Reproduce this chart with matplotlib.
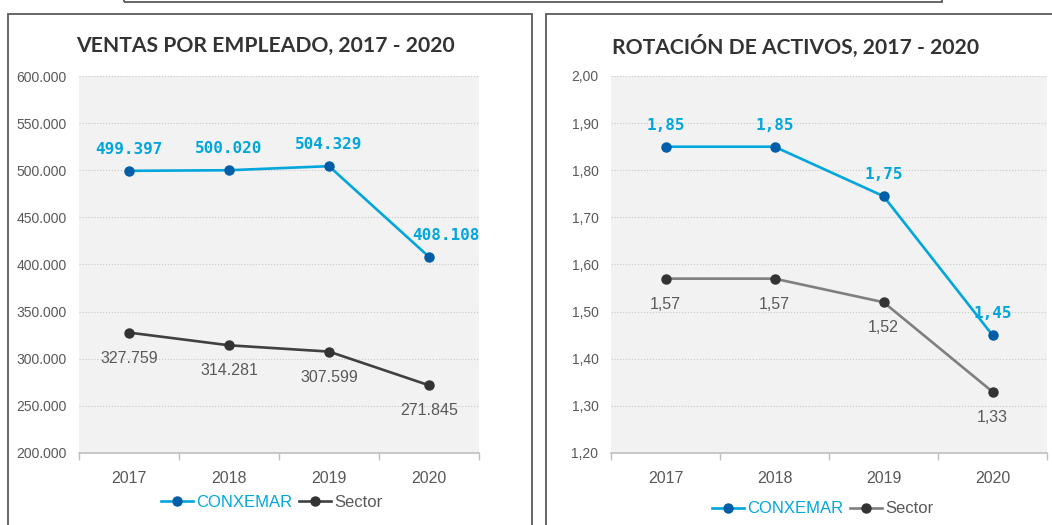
import matplotlib
matplotlib.use('Agg')
import matplotlib.pyplot as plt
from matplotlib.patches import Rectangle
from matplotlib.ticker import FuncFormatter

plt.rcParams['font.family'] = ['Liberation Sans', 'DejaVu Sans']

# datos
years = ['2017', '2018', '2019', '2020']
ventas_conxemar = [499397, 500020, 504329, 408108]
ventas_sector = [327759, 314281, 307599, 271845]
rot_conxemar = [1.85, 1.85, 1.745, 1.45]
rot_sector = [1.57, 1.57, 1.52, 1.33]
rot_conxemar_lbl = ['1,85', '1,85', '1,75', '1,45']
rot_sector_lbl = ['1,57', '1,57', '1,52', '1,33']

CYAN = '#00A6DC'
AZUL = '#005DA8'
GRIS_TXT = '#595959'


def miles(v):
    return f'{int(round(v)):,}'.replace(',', '.')


def dec(v, _=None):
    return f'{v:.2f}'.replace('.', ',')


fig = plt.figure(figsize=(10.52, 5.25), dpi=100)
W, H = 1052, 525

# marcos
for (x0, y0, x1, y1) in [(8, 14, 532, 560), (546, 14, 1100, 560), (124, -40, 942, 2)]:
    fig.patches.append(Rectangle((x0 / W, 1 - y1 / H), (x1 - x0) / W, (y1 - y0) / H,
                                 transform=fig.transFigure, fill=False,
                                 edgecolor='#5A5A5A', lw=1.3, clip_on=False))


def panel(rect, s1, s2, lbl1, lbl2, ylim, step, fmt, sector_col, title, title_x, leg_xy, off_last):
    ax = fig.add_axes(rect)
    ax.set_facecolor('#F2F2F2')
    x = range(len(years))
    ax.plot(x, s1, color=CYAN, lw=1.9, marker='o', ms=6.5, mfc=AZUL, mec=AZUL,
            label='CONXEMAR', zorder=3)
    ax.plot(x, s2, color=sector_col, lw=1.9, marker='o', ms=6.5, mfc='#333333', mec='#333333',
            label='Sector', zorder=3)
    for i in x:
        dx = off_last if i == len(years) - 1 else 0
        ax.annotate(lbl1[i], (i, s1[i]), xytext=(dx, 15.5), textcoords='offset points',
                    ha='center', va='center', color=CYAN, fontsize=11.5, fontweight='bold',
                    family=['DejaVu Sans Mono'])
        ax.annotate(lbl2[i], (i, s2[i]), xytext=(0, -18.5), textcoords='offset points',
                    ha='center', va='center', color=GRIS_TXT, fontsize=11.5)
    ax.set_xlim(-0.5, 3.5)
    ax.set_ylim(*ylim)
    ticks = []
    v = ylim[0]
    while v <= ylim[1] + step * 0.01:
        ticks.append(v)
        v += step
    ax.set_yticks(ticks)
    ax.yaxis.set_major_formatter(FuncFormatter(fmt))
    ax.set_xticks(list(x))
    ax.set_xticklabels(years)
    ax.set_xticks([-0.5, 0.5, 1.5, 2.5, 3.5], minor=True)
    ax.tick_params(axis='x', which='major', length=0, pad=13, labelsize=11.5, labelcolor=GRIS_TXT)
    ax.tick_params(axis='x', which='minor', length=5, color='#BFBFBF', width=1)
    ax.tick_params(axis='y', length=0, pad=9, labelsize=10, labelcolor=GRIS_TXT)
    for s in ['top', 'left', 'right']:
        ax.spines[s].set_visible(False)
    ax.spines['bottom'].set_color('#BFBFBF')
    ax.spines['bottom'].set_linewidth(1.2)
    ax.yaxis.grid(True, linestyle=':', color='#C8C8C8', lw=0.8)
    ax.set_axisbelow(True)
    leg = ax.legend(loc='center', bbox_to_anchor=leg_xy, ncol=2, frameon=False,
                    fontsize=12, handlelength=1.9, handletextpad=0.2, columnspacing=0.4)
    leg.get_texts()[0].set_color(CYAN)
    leg.get_texts()[1].set_color(GRIS_TXT)
    fig.text(title_x / W, 1 - 46 / H, title, ha='center', va='center', fontsize=15.2,
             fontweight='bold', color='#333333', family=['Lato', 'DejaVu Sans'])
    return ax


panel([79 / W, 72 / H, 400 / W, 377 / H], ventas_conxemar, ventas_sector,
      [miles(v) for v in ventas_conxemar], [miles(v) for v in ventas_sector],
      (200000, 600000), 50000, lambda v, _: miles(v), '#404040',
      'VENTAS POR EMPLEADO, 2017 - 2020', 265, (0.4825, -0.13), 12)

panel([611 / W, 72 / H, 436 / W, 377 / H], rot_conxemar, rot_sector,
      rot_conxemar_lbl, rot_sector_lbl,
      (1.20, 2.00), 0.10, dec, '#7F7F7F',
      'ROTACIÓN DE ACTIVOS, 2017 - 2020', 796, (0.486, -0.1485), 0)

fig.savefig('out.png', dpi=100)
